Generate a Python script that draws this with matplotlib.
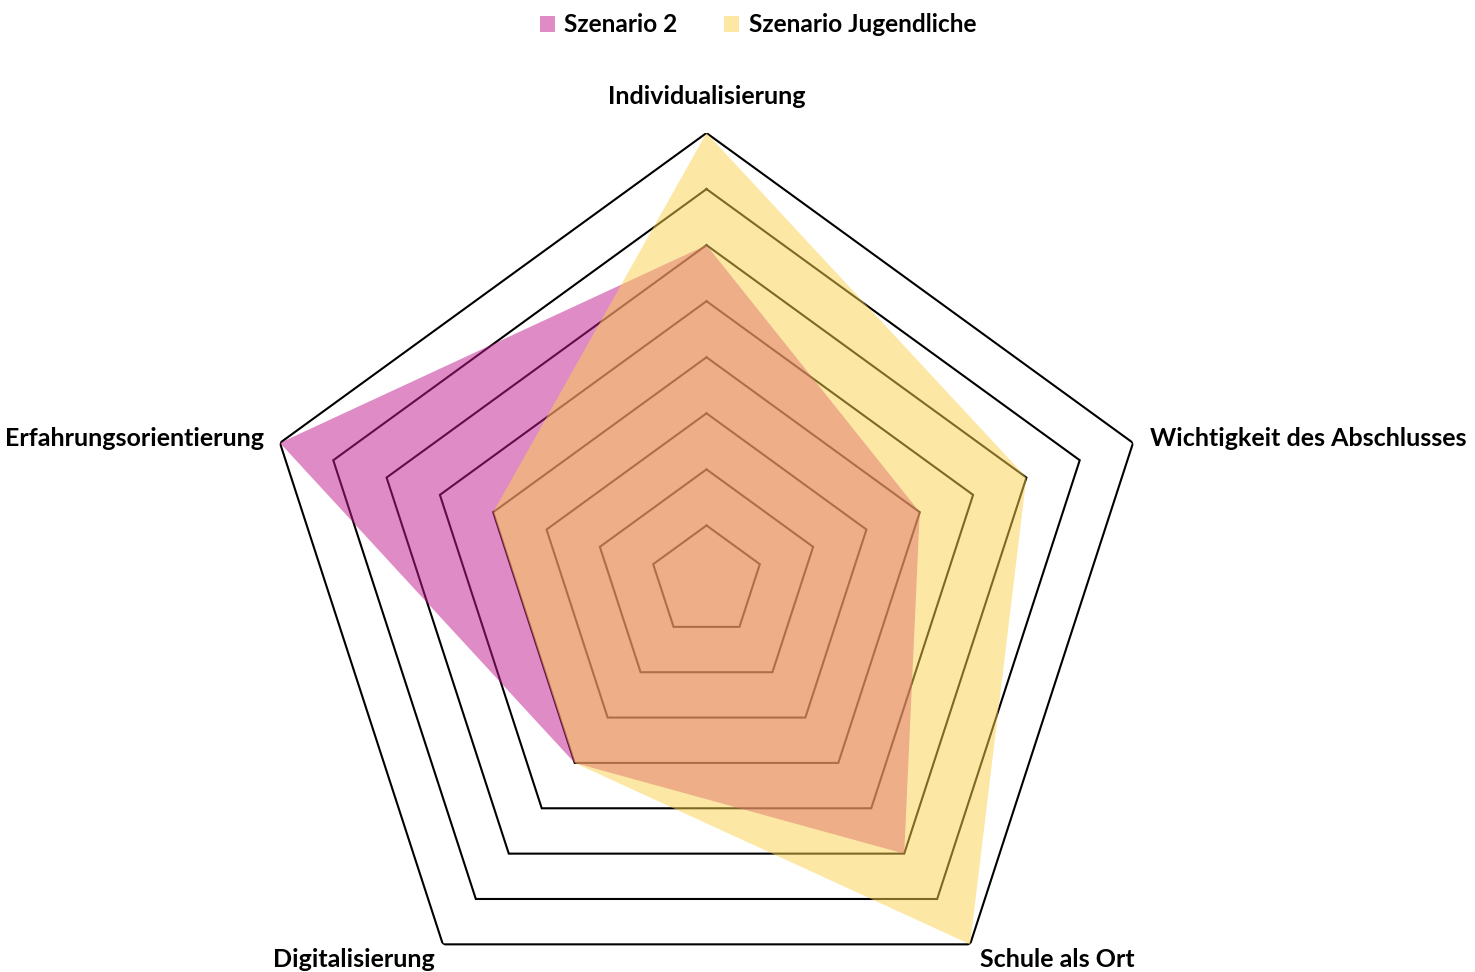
import numpy as np
import matplotlib
matplotlib.use("Agg")
import matplotlib.pyplot as plt
from matplotlib.patches import Patch

categories = ["Individualisierung", "Wichtigkeit des Abschlusses", "Schule als Ort",
              "Digitalisierung", "Erfahrungsorientierung"]
series_names = ["Szenario 2", "Szenario Jugendliche"]
szenario2 = [6, 4, 6, 4, 8]
jugendliche = [8, 6, 8, 4, 4]
ring_levels = [1, 2, 3, 4, 5, 6, 7, 8]

plt.rcParams['font.family'] = ['Lato', 'DejaVu Sans']

W, H = 1475, 972
fig = plt.figure(figsize=(W / 100, H / 100), dpi=100)
cx, cy, R = 706.5, 581.5, 448.5
ax = fig.add_axes([(cx - R) / W, (H - cy - R) / H, 2 * R / W, 2 * R / H], projection='polar')
ax.set_theta_offset(np.pi / 2)
ax.set_theta_direction(-1)
ax.set_ylim(0, 8)
ax.grid(False)
ax.spines['polar'].set_visible(False)
ax.set_xticks([])
ax.set_yticks([])
ax.patch.set_alpha(0)

n = len(categories)
angles = np.linspace(0, 2 * np.pi, n, endpoint=False)
ang_closed = np.concatenate([angles, angles[:1]])

for lv in ring_levels:
    ax.plot(ang_closed, [lv] * (n + 1), color='black', lw=1.5, zorder=1, solid_joinstyle='miter')

m_col = '#C1198D'
y_col = '#FBD14D'
v1 = np.array(szenario2 + szenario2[:1], dtype=float)
v2 = np.array(jugendliche + jugendliche[:1], dtype=float)
ax.fill(ang_closed, v1, color=m_col, alpha=0.5, lw=0, zorder=2)
ax.fill(ang_closed, v2, color=y_col, alpha=0.5, lw=0, zorder=3)

# category labels
fs = 18
label_pos = [
    (707, 97, 'center'),
    (1150, 438, 'left'),
    (980, 959, 'left'),
    (435, 959, 'right'),
    (264, 438, 'right'),
]
for cat, (x, y, ha) in zip(categories, label_pos):
    fig.text(x / W, 1 - y / H, cat, ha=ha, va='center', fontsize=fs, fontweight='bold')

handles = [Patch(facecolor=m_col, alpha=0.5, edgecolor='none'),
           Patch(facecolor=y_col, alpha=0.5, edgecolor='none')]
fig.legend(handles, series_names, loc='center', bbox_to_anchor=(758 / W, 1 - 25 / H), ncol=2,
           frameon=False, prop={'size': 17.6, 'weight': 'bold'}, handlelength=0.6, handleheight=0.6,
           handletextpad=0.4, columnspacing=1.9)

fig.savefig('out.png', dpi=100)
